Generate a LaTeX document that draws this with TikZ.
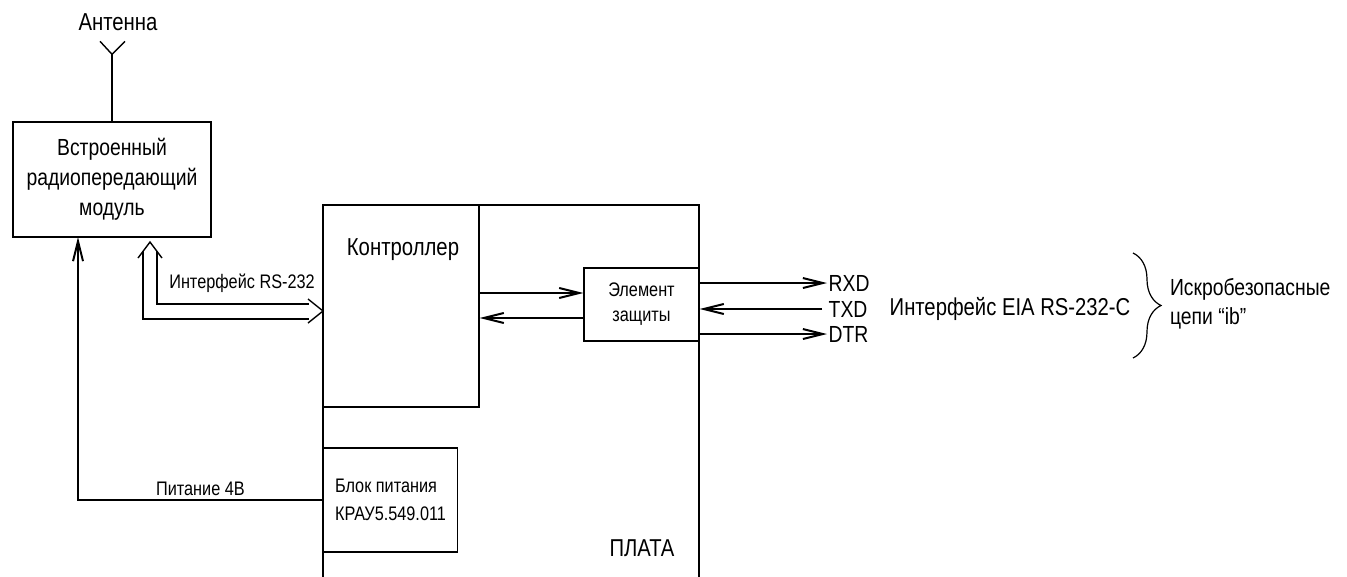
\documentclass[tikz,border=0pt]{standalone}
\usepackage{fontspec}
\setmainfont{Liberation Sans}[FakeStretch=0.83]
\usetikzlibrary{arrows.meta,decorations.pathreplacing}

\begin{document}
\begin{tikzpicture}[x=1pt, y=-1pt, line width=1.4pt,
        blk/.style={draw, rectangle, inner sep=0pt, align=center},
        big/.style={font=\fontsize{23.3}{30}\selectfont},
        sml/.style={font=\fontsize{19.6}{25}\selectfont},
        arr/.style={-{Straight Barb[length=20pt, width=10pt, line width=2pt]}}]
    \useasboundingbox (0,0) rectangle (1347,576);
    \clip (0,0) rectangle (1347,576);

    \node[blk, big, minimum width=198pt, minimum height=115pt] at (112,179.5) (mod) {Встроенный\\радиопередающий\\модуль};
    \node[font=\fontsize{24.5}{30}\selectfont] at (118,22) (ant) {Антенна};
    \node[blk, minimum width=376pt, minimum height=445pt] at (511,427.5) (plate) {};
    \node[blk, minimum width=156pt, minimum height=202pt] at (401,306) (ctrl) {};
    \node[font=\fontsize{24.5}{30}\selectfont] at (403,250) (ctrltxt) {Контроллер};
    \node[blk, sml, minimum width=115pt, minimum height=73pt] at (641.5,304.5) (elem) {Элемент\\защиты};
    \node[blk, minimum width=134pt, minimum height=104pt, align=left,
          font=\fontsize{19.6}{28}\selectfont] at (390.5,500) (pwr) {Блок питания\\КРАУ5.549.011};
    \node[font=\fontsize{24.4}{28}\selectfont] at (642,548) (platetxt) {ПЛАТА};

    \node[big, anchor=west, inner sep=1pt] at (827,283) (rxd) {RXD};
    \node[big, anchor=west, inner sep=1pt] at (827,309) (txd) {TXD};
    \node[big, anchor=west, inner sep=1pt] at (827,334) (dtr) {DTR};
    \node[font=\fontsize{24.4}{28}\selectfont] at (1010,309) (eia) {Интерфейс EIA RS-232-C};
    \node[anchor=west, align=left, font=\fontsize{23.3}{29}\selectfont] at (1166,304) (ib) {Искробезопасные\\цепи “ib”};

    \draw (mod.north) -- ++(0,-67) coordinate (af);
    \draw (af) ++(-12,-13) -- (af) -- ++(13,-13);

    \coordinate (pwrup) at (78,237);
    \draw[arr] (pwr.west) -| (pwrup) node[pos=0.25, above, sml] {Питание 4В};

    \coordinate (rsa) at (150,242);
    \coordinate (rsb) at (323,311);
    \draw (rsa) ++(-12,16) -- (rsa) -- ++(12,16);
    \draw (rsb) ++(-15,-12) -- (rsb) -- ++(-15,12);
    \draw (143,251) |- (309,319);
    \draw (157,251) |- (309,304);
    \node[sml] at (242,283) (rstxt) {Интерфейс RS-232};

    \coordinate (e1) at ([yshift=11.5pt]elem.west);
    \coordinate (e2) at ([yshift=-13.5pt]elem.west);
    \draw[arr] (ctrl.east |- e1) -- (e1);
    \draw[arr] (e2) -- (ctrl.east |- e2);

    \draw[arr] (elem.east |- rxd.west) -- (rxd.west);
    \draw[arr] ([xshift=-5pt]txd.west) -- (elem.east |- txd.west);
    \draw[arr] (elem.east |- dtr.west) -- (dtr.west);

    \draw[decorate, decoration={brace, amplitude=28pt}, line width=1.2pt] (1133,253) -- (1133,358);
\end{tikzpicture}
\end{document}
